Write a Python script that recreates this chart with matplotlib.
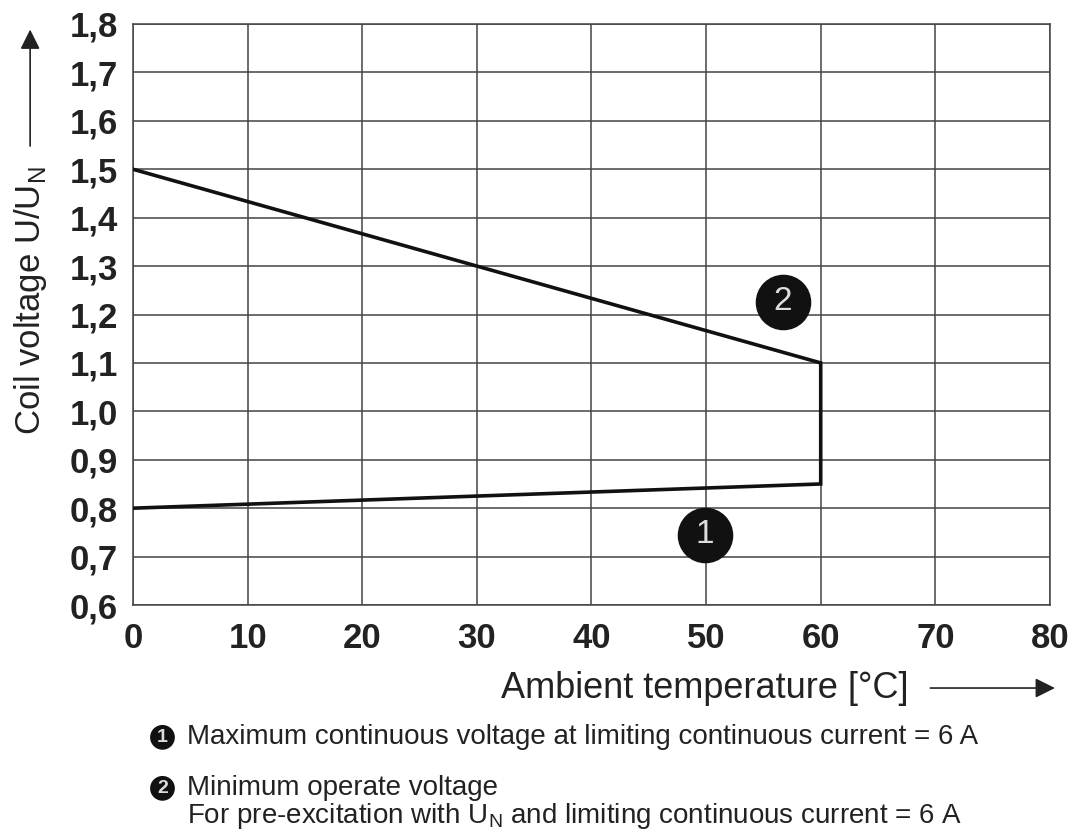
import numpy as np
import matplotlib.pyplot as plt

# curve data (ambient temperature in degC, coil voltage U/UN)
temp = [0, 60, 60, 0]
voltage = [1.5, 1.1, 0.85, 0.8]

x_ticks = [0, 10, 20, 30, 40, 50, 60, 70, 80]
y_ticks = [0.6, 0.7, 0.8, 0.9, 1.0, 1.1, 1.2, 1.3, 1.4, 1.5, 1.6, 1.7, 1.8]

# circled marker labels
marker_names = ['1', '2']
marker_x = [49.9, 56.7]
marker_y = [0.745, 1.226]

plt.rcParams['font.family'] = ['Liberation Sans', 'DejaVu Sans']

fig = plt.figure(figsize=(10.76, 8.36), dpi=100)
ax = fig.add_axes([0.1236, 0.2763, 0.8522, 0.6950])

ax.plot(temp, voltage, color='#111111', lw=2.6, solid_joinstyle='miter', zorder=3)

for name, mx, my in zip(marker_names, marker_x, marker_y):
    ax.plot(mx, my, 'o', ms=39, color='#111111', zorder=4)
    ax.text(mx, my, name, color='#dddddd', fontsize=24, ha='center', va='center', zorder=5)

ax.set_xlim(0, 80)
ax.set_ylim(0.6, 1.8)
ax.set_xticks(x_ticks)
ax.set_yticks(y_ticks)
ax.set_xticklabels([str(t) for t in x_ticks], fontsize=25, fontweight='bold', color='#222222')
ax.set_yticklabels([('%.1f' % t).replace('.', ',') for t in y_ticks], fontsize=25,
                   fontweight='bold', color='#222222')
ax.tick_params(length=0)
ax.tick_params(axis='x', pad=12)
ax.tick_params(axis='y', pad=11)
ax.grid(True, color='#444444', lw=1.1)
for s in ax.spines.values():
    s.set_color('#444444')
    s.set_linewidth(1.1)

# axis titles with arrows
fig.text(0.466, 0.177, 'Ambient temperature [°C]', fontsize=26, color='#222222', va='center')
ax.annotate('', xy=(0.983, 0.177), xytext=(0.862, 0.177), xycoords='figure fraction',
            arrowprops=dict(arrowstyle='-|>', color='#222222', lw=1.2, mutation_scale=30))
fig.text(0.028, 0.64, 'Coil voltage U/U$_\\mathregular{N}$', fontsize=25, color='#222222',
         rotation=90, ha='center', va='center')
ax.annotate('', xy=(0.028, 0.968), xytext=(0.028, 0.822), xycoords='figure fraction',
            arrowprops=dict(arrowstyle='-|>', color='#222222', lw=1.2, mutation_scale=30))

# legend notes
for name, yy in zip(marker_names, [0.118, 0.057]):
    fig.text(0.151, yy, name, fontsize=14, color='#dddddd',
             ha='center', va='center', fontweight='bold',
             bbox=dict(boxstyle='circle,pad=0.2', fc='#111111', ec='none'))
fig.text(0.174, 0.118, 'Maximum continuous voltage at limiting continuous current = 6 A',
         fontsize=20, color='#222222', va='center')
fig.text(0.174, 0.058, 'Minimum operate voltage', fontsize=20, color='#222222', va='center')
fig.text(0.174, 0.024, 'For pre-excitation with U$_\\mathregular{N}$ and limiting continuous current = 6 A',
         fontsize=20, color='#222222', va='center')

fig.savefig('out.png', dpi=100, facecolor='white')
